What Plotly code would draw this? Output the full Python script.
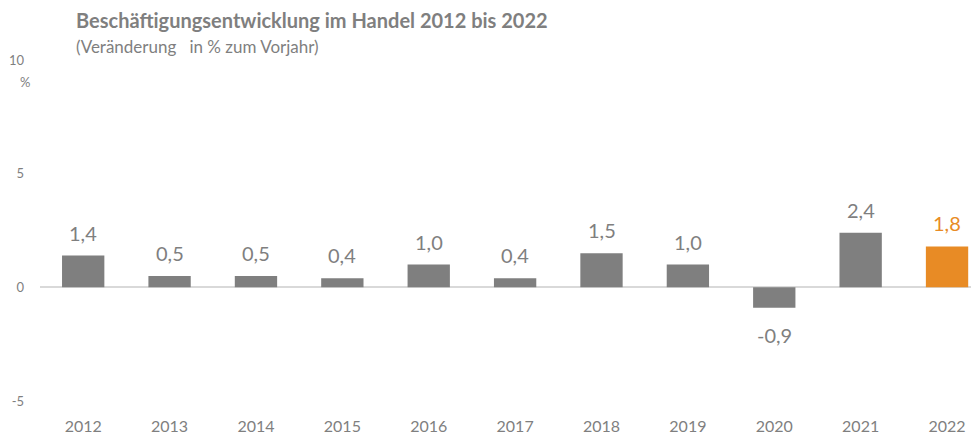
import plotly.graph_objects as go

years = ["2012", "2013", "2014", "2015", "2016", "2017", "2018", "2019", "2020", "2021", "2022"]
values = [1.4, 0.5, 0.5, 0.4, 1.0, 0.4, 1.5, 1.0, -0.9, 2.4, 1.8]
labels = ["1,4", "0,5", "0,5", "0,4", "1,0", "0,4", "1,5", "1,0", "-0,9", "2,4", "1,8"]
y_ticks = [-5, 0, 5, 10]
y_ticktext = ["-5", "0", "5", "10"]

GRAY = "#7f7f7f"
ORANGE = "#e88b25"
FONT = "Lato"

OFF = 8  # default page body margin
W, H = 979 - OFF, 436 - OFF
L, T, B = 40 - OFF, 60 - OFF, 35
PW, PH = W - L, H - T - B


def px(ax, ay):
    return (ax - OFF - L) / PW, (OFF + H - B - ay) / PH


colors = [ORANGE if y == "2022" else GRAY for y in years]

fig = go.Figure()
fig.add_trace(go.Bar(x=list(range(len(years))), y=values,
                     marker=dict(color=colors, line=dict(width=0)),
                     width=0.49, hoverinfo="skip"))

annotations = []
for i, (v, lab, c) in enumerate(zip(values, labels, colors)):
    annotations.append(dict(x=i, y=v, xref="x", yref="y", text=lab, showarrow=False,
                            yshift=23 if v >= 0 else -27,
                            font=dict(family=FONT, size=20, color=c)))
x, y = px(25, 82)
annotations.append(dict(x=x, y=y, xref="paper", yref="paper",
                        text="%", showarrow=False, xanchor="center", yanchor="middle",
                        font=dict(family=FONT, size=13, color=GRAY)))
x, y = px(74, 20)
annotations.append(dict(x=x, y=y, xref="paper", yref="paper",
                        text="<b>Beschäftigungsentwicklung im Handel 2012 bis 2022</b>",
                        showarrow=False, xanchor="left", yanchor="middle",
                        font=dict(family=FONT, size=20, color=GRAY)))
x, y = px(74, 46)
annotations.append(dict(x=x, y=y, xref="paper", yref="paper",
                        text="(Veränderung   in % zum Vorjahr)", showarrow=False,
                        xanchor="left", yanchor="middle",
                        font=dict(family=FONT, size=17, color=GRAY)))

fig.update_layout(
    width=W, height=H,
    margin=dict(l=L, r=0, t=T, b=B, autoexpand=False),
    paper_bgcolor="white", plot_bgcolor="white",
    showlegend=False,
    annotations=annotations,
    xaxis=dict(range=[-0.5, 10.37], tickvals=list(range(len(years))), ticktext=years,
               showgrid=False, showline=False, automargin=False,
               ticks="", tickfont=dict(family=FONT, size=16, color=GRAY),
               ticklabelstandoff=14, zeroline=False),
    yaxis=dict(range=[-5, 10], tickvals=y_ticks, ticktext=y_ticktext,
               showgrid=False, showline=False,
               zeroline=True, zerolinecolor="#d9d9d9", zerolinewidth=2, automargin=False,
               ticks="", tickfont=dict(family=FONT, size=13, color=GRAY),
               ticklabelstandoff=15),
)

fig.write_html("out.html")
